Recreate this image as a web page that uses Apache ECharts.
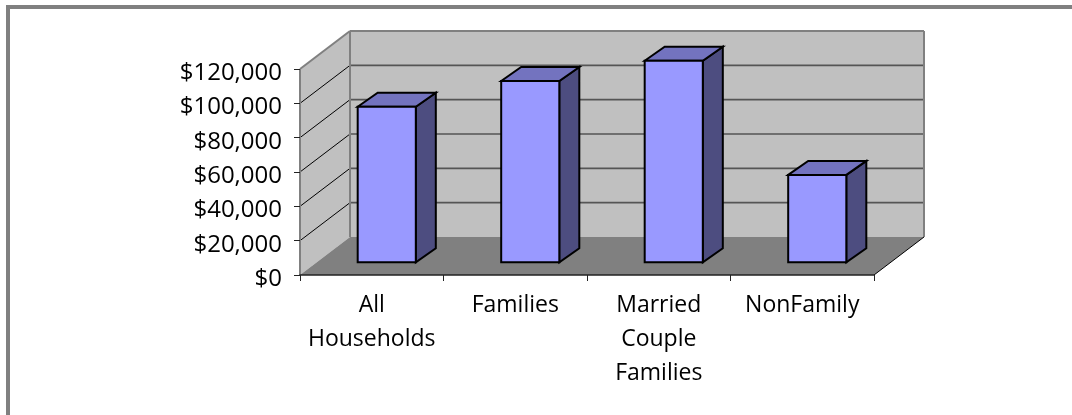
<!DOCTYPE html>
<html>
<head>
<meta charset="utf-8">
<style>
  html, body { margin: 0; padding: 0; background: #fff; }
  #chart { width: 1072px; height: 415px; }
</style>
<script src="https://cdn.jsdelivr.net/npm/echarts@6/dist/echarts.min.js"></script>
</head>
<body>
<div id="chart"></div>
<script>
const categories = ['All\nHouseholds', 'Families', 'Married\nCouple\nFamilies', 'NonFamily'];
const incomes = [90600, 105600, 117400, 50900];
const valueTicks = [0, 20000, 40000, 60000, 80000, 100000, 120000];

// fake 3d: how far the back wall sits from the front plane, and the bar box
const wallDx = 50, wallDy = -38;
const barFrac = 0.405, barDx = 20, barDy = -14;
const barOffX = 15, barOffY = -12.7;

const font = '"Open Sans"';

function poly(points, fill, stroke, lineWidth) {
    return {
        type: 'polygon',
        shape: { points },
        style: { fill, stroke: stroke || 'none', lineWidth: lineWidth || 0, lineJoin: 'miter' }
    };
}

function renderWalls(params, api) {
    const cs = params.coordSys;
    const l = cs.x, r = cs.x + cs.width;
    const y0 = api.coord([0, 0])[1];
    const yTop = api.coord([0, valueTicks[valueTicks.length - 1]])[1];
    const children = [
        // side wall
        poly([[l, y0], [l + wallDx, y0 + wallDy], [l + wallDx, yTop + wallDy], [l, yTop]], '#c0c0c0'),
        // back wall
        poly([[l + wallDx, y0 + wallDy], [r + wallDx, y0 + wallDy], [r + wallDx, yTop + wallDy], [l + wallDx, yTop + wallDy]], '#c0c0c0'),
    ];
    // the top tick is the wall edge, drawn below in gray
    valueTicks.slice(1, -1).forEach(v => {
        const y = api.coord([0, v])[1];
        children.push({ type: 'line', shape: { x1: l, y1: y, x2: l + wallDx, y2: y + wallDy }, style: { stroke: '#000', lineWidth: 1 } });
        children.push({ type: 'line', shape: { x1: l + wallDx, y1: y + wallDy, x2: r + wallDx, y2: y + wallDy }, style: { stroke: '#555', lineWidth: 1.6 } });
    });
    // floor goes over the wall bottoms
    children.push(poly([[l, y0], [r, y0], [r + wallDx, y0 + wallDy], [l + wallDx, y0 + wallDy]], '#808080'));
    const gray = { stroke: '#808080', lineWidth: 2 };
    children.push({ type: 'line', shape: { x1: l + wallDx, y1: y0 + wallDy, x2: l + wallDx, y2: yTop + wallDy }, style: gray });
    children.push({ type: 'line', shape: { x1: r + wallDx, y1: y0 + wallDy, x2: r + wallDx, y2: yTop + wallDy }, style: gray });
    children.push({ type: 'line', shape: { x1: l + wallDx, y1: yTop + wallDy, x2: r + wallDx, y2: yTop + wallDy }, style: gray });
    children.push({ type: 'line', shape: { x1: l, y1: yTop, x2: l + wallDx, y2: yTop + wallDy }, style: gray });
    children.push({ type: 'line', shape: { x1: l, y1: y0, x2: l, y2: yTop }, style: gray });
    children.push({ type: 'line', shape: { x1: r, y1: y0, x2: r + wallDx, y2: y0 + wallDy }, style: { stroke: '#000', lineWidth: 1 } });
    return { type: 'group', children };
}

function renderBar(params, api) {
    const p = api.coord([api.value(0), api.value(1)]);
    const base = api.coord([api.value(0), 0]);
    const w = api.size([1, 0])[0] * barFrac;
    const x1 = p[0] + barOffX - w / 2, x2 = x1 + w;
    const yT = p[1] + barOffY, yB = base[1] + barOffY;
    const line = '#000';
    return {
        type: 'group',
        children: [
            poly([[x2, yT], [x2 + barDx, yT + barDy], [x2 + barDx, yB + barDy], [x2, yB]], '#4d4d80', line, 2),
            poly([[x1, yT], [x1 + barDx, yT + barDy], [x2 + barDx, yT + barDy], [x2, yT]], '#7373bf', line, 2),
            poly([[x1, yT], [x2, yT], [x2, yB], [x1, yB]], '#9999ff', line, 2),
        ]
    };
}

const chart = echarts.init(document.getElementById('chart'));
chart.setOption({
    animation: false,
    backgroundColor: '#fff',
    grid: { left: 300, right: 198, top: 69, bottom: 140, containLabel: false },
    graphic: [{
        type: 'polyline',
        shape: { points: [[8, 415], [8, 7], [1072, 7]] },
        style: { stroke: '#808080', lineWidth: 4, fill: 'none' }
    }],
    xAxis: {
        type: 'category',
        data: categories,
        z: 5,
        axisLine: { lineStyle: { color: '#222', width: 1.5 } },
        axisTick: { show: true, alignWithLabel: false, length: 6, lineStyle: { color: '#222' } },
        axisLabel: { interval: 0, color: '#000', fontFamily: font, fontSize: 23, lineHeight: 34, margin: 13, verticalAlign: 'top' }
    },
    yAxis: {
        type: 'value',
        min: 0,
        max: 120000,
        interval: 20000,
        z: 5,
        splitLine: { show: false },
        axisLine: { show: false },
        axisTick: { show: true, length: 6, lineStyle: { color: '#222' } },
        axisLabel: {
            color: '#000', fontFamily: font, fontSize: 24, margin: 18, verticalAlign: 'top', lineHeight: 8,
            formatter: v => '$' + v.toLocaleString('en-US')
        }
    },
    series: [
        {
            type: 'custom',
            renderItem: renderWalls,
            data: [[0, 0]],
            silent: true,
            z: 1,
            clip: false
        },
        {
            type: 'custom',
            renderItem: renderBar,
            encode: { x: 0, y: 1 },
            data: incomes.map((v, i) => [i, v]),
            z: 3,
            clip: false
        }
    ]
});
</script>
</body>
</html>
